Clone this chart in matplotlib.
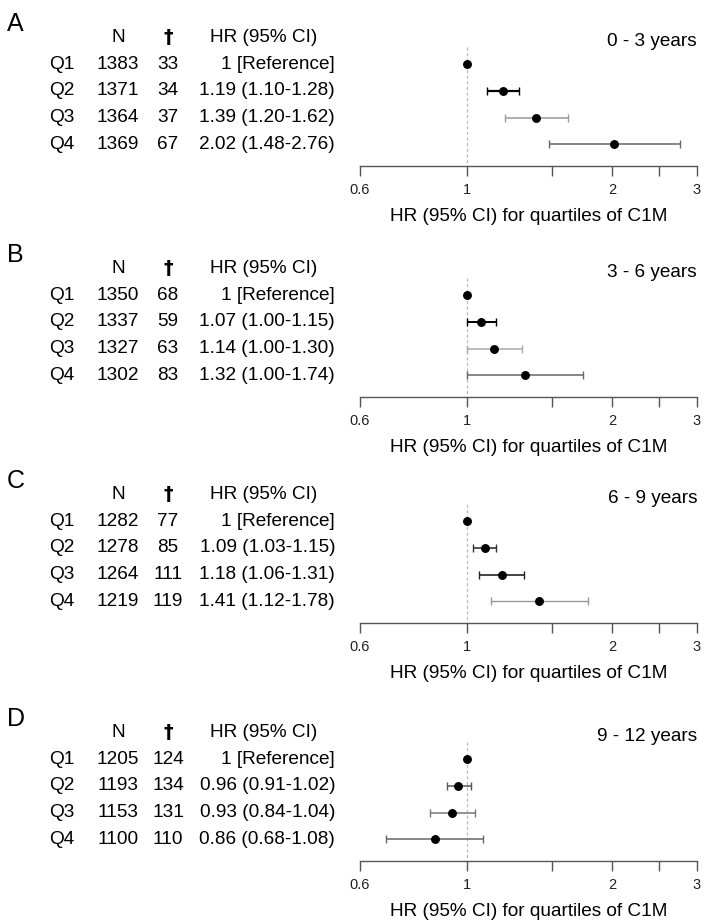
import matplotlib
matplotlib.use("Agg")
import matplotlib.pyplot as plt
import matplotlib.transforms as mtransforms

plt.rcParams['font.family'] = ['Liberation Sans', 'DejaVu Sans']

# ---------------- data ----------------
panel_letters = ['A', 'B', 'C', 'D']
periods = ['0 - 3 years', '3 - 6 years', '6 - 9 years', '9 - 12 years']
quartiles = ['Q1', 'Q2', 'Q3', 'Q4']

n_A = [1383, 1371, 1364, 1369]
deaths_A = [33, 34, 37, 67]
hr_A = [1.00, 1.19, 1.39, 2.02]
lo_A = [1.00, 1.10, 1.20, 1.48]
hi_A = [1.00, 1.28, 1.62, 2.76]

n_B = [1350, 1337, 1327, 1302]
deaths_B = [68, 59, 63, 83]
hr_B = [1.00, 1.07, 1.14, 1.32]
lo_B = [1.00, 1.00, 1.00, 1.00]
hi_B = [1.00, 1.15, 1.30, 1.74]

n_C = [1282, 1278, 1264, 1219]
deaths_C = [77, 85, 111, 119]
hr_C = [1.00, 1.09, 1.18, 1.41]
lo_C = [1.00, 1.03, 1.06, 1.12]
hi_C = [1.00, 1.15, 1.31, 1.78]

n_D = [1205, 1193, 1153, 1100]
deaths_D = [124, 134, 131, 110]
hr_D = [1.00, 0.96, 0.93, 0.86]
lo_D = [1.00, 0.91, 0.84, 0.68]
hi_D = [1.00, 1.02, 1.04, 1.08]

x_ticks = [0.6, 1, 1.5, 2, 2.5, 3]
x_tick_labels = ['0.6', '1', '', '2', '', '3']
x_label = 'HR (95% CI) for quartiles of C1M'

# ---------------- style ----------------
W, H = 705, 923
DPI = 100
bar_colors = {
    'A': ['black', 'black', '#999999', '#666666'],
    'B': ['black', 'black', '#aaaaaa', '#666666'],
    'C': ['black', '#333333', '#222222', '#999999'],
    'D': ['black', '#555555', '#777777', '#666666'],
}
bar_widths = {
    'A': [1, 1.6, 1.1, 1.1],
    'B': [1, 1.4, 1.1, 1.1],
    'C': [1, 1.2, 1.2, 1.0],
    'D': [1, 1.1, 1.1, 1.1],
}

panels = [
    ('A', n_A, deaths_A, hr_A, lo_A, hi_A),
    ('B', n_B, deaths_B, hr_B, lo_B, hi_B),
    ('C', n_C, deaths_C, hr_C, lo_C, hi_C),
    ('D', n_D, deaths_D, hr_D, lo_D, hi_D),
]

axis_px = [166, 397, 623, 861]     # y of the x-axis line (pixels from top)
row_px = 26.8                       # row spacing in pixels
q1_gap = 102                        # distance from Q1 row to axis line
ax_left, ax_right = 360, 697

fig = plt.figure(figsize=(W / DPI, H / DPI), dpi=DPI)

FS = 13.7
for i, (letter, n, d, hr, lo, hi) in enumerate(panels):
    ybot = axis_px[i]
    y_low = 3 + (q1_gap - 3 * row_px) / row_px
    y_top = -1.7
    height_px = (y_low - y_top) * row_px
    ax = fig.add_axes([ax_left / W, 1 - ybot / H, (ax_right - ax_left) / W, height_px / H])
    ax.set_xscale('log')
    ax.set_xlim(0.6, 3)
    ax.set_ylim(y_low, y_top)
    for s in ['top', 'right', 'left']:
        ax.spines[s].set_visible(False)
    ax.spines['bottom'].set_color('#555555')
    ax.spines['bottom'].set_linewidth(1.0)
    ax.set_yticks([])
    ax.set_xticks(x_ticks)
    ax.set_xticklabels(x_tick_labels)
    ax.xaxis.set_minor_locator(matplotlib.ticker.NullLocator())
    ax.tick_params(axis='x', direction='out', length=7.5, width=1.0, color='#555555',
                   labelsize=10.5, pad=5, labelcolor='#222222')
    ax.set_xlabel(x_label, fontsize=FS, labelpad=8)

    # reference line at HR = 1
    ax.plot([1, 1], [-0.65, y_low], linestyle=(0, (2.5, 2)), color='#bbbbbb', lw=0.9,
            clip_on=False, zorder=1)

    rows = list(range(len(quartiles)))
    for r in rows:
        if hi[r] != lo[r]:
            ax.errorbar(hr[r], r, xerr=[[hr[r] - lo[r]], [hi[r] - hr[r]]], fmt='none',
                        ecolor=bar_colors[letter][r], elinewidth=bar_widths[letter][r],
                        capsize=2.8, capthick=1.0, zorder=2)
    ax.plot(hr, rows, 'o', color='black', markersize=5.4, zorder=3, linestyle='none')

    ax.text(1.0, -0.85, periods[i], transform=mtransforms.blended_transform_factory(ax.transAxes, ax.transData),
            ha='right', va='center', fontsize=FS)

    # table text
    tr = mtransforms.blended_transform_factory(fig.transFigure, ax.transData)
    ax.text(7 / W, -1.5, letter, transform=tr, ha='left', va='center', fontsize=18)
    ax.text(118 / W, -1, 'N', transform=tr, ha='center', va='center', fontsize=FS)
    ax.text(168 / W, -1, '\u2020', transform=tr, ha='center', va='center', fontsize=FS,
            fontweight='bold', family=['DejaVu Sans'])
    ax.text(264 / W, -1, 'HR (95% CI)', transform=tr, ha='center', va='center', fontsize=FS)
    for r in rows:
        ax.text(49 / W, r, quartiles[r], transform=tr, ha='left', va='center', fontsize=FS)
        ax.text(118 / W, r, str(n[r]), transform=tr, ha='center', va='center', fontsize=FS)
        ax.text(168 / W, r, str(d[r]), transform=tr, ha='center', va='center', fontsize=FS)
        if r == 0:
            s = '1 [Reference]'
        else:
            s = f'{hr[r]:.2f} ({lo[r]:.2f}-{hi[r]:.2f})'
        ax.text(335 / W, r, s, transform=tr, ha='right', va='center', fontsize=FS)

fig.savefig('out.png', dpi=DPI, facecolor='white')
